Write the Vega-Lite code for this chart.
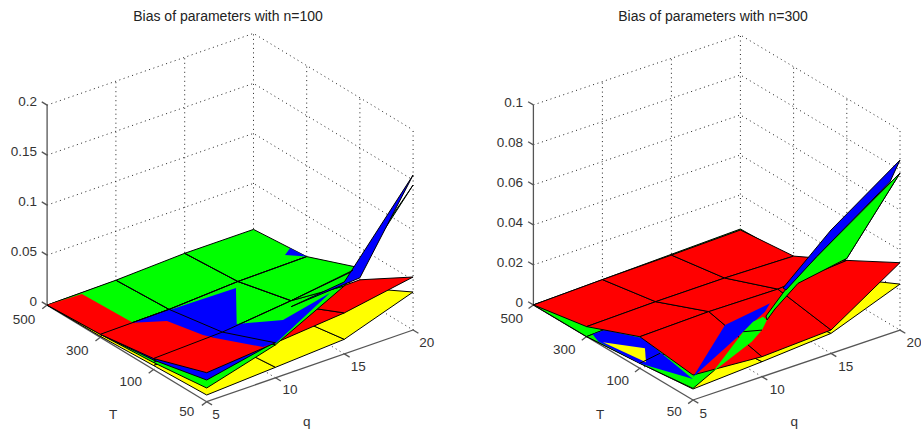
{"$schema":"https://vega.github.io/schema/vega-lite/v6.json","padding":0,"spacing":0,"background":"white","config":{"view":{"stroke":null},"concat":{"spacing":0}},
"datasets":{"left":[
{"s":"grid","id":"g0","qi":[0,3,3],"ti":[3,3,0],"z":[0,0,0],"v":[0,1,2]},
{"s":"grid","id":"g1","qi":[0,3,3],"ti":[3,3,0],"z":[0.05,0.05,0.05],"v":[0,1,2]},
{"s":"grid","id":"g2","qi":[0,3,3],"ti":[3,3,0],"z":[0.1,0.1,0.1],"v":[0,1,2]},
{"s":"grid","id":"g3","qi":[0,3,3],"ti":[3,3,0],"z":[0.15,0.15,0.15],"v":[0,1,2]},
{"s":"grid","id":"g4","qi":[0,3,3],"ti":[3,3,0],"z":[0.2,0.2,0.2],"v":[0,1,2]},
{"s":"grid","id":"v1","qi":[1,1],"ti":[3,3],"z":[0,0.2],"v":[0,1]},
{"s":"grid","id":"v2","qi":[2,2],"ti":[3,3],"z":[0,0.2],"v":[0,1]},
{"s":"grid","id":"v3","qi":[3,3],"ti":[3,3],"z":[0,0.2],"v":[0,1]},
{"s":"grid","id":"v4","qi":[3,3],"ti":[2,2],"z":[0,0.2],"v":[0,1]},
{"s":"grid","id":"v5","qi":[3,3],"ti":[1,1],"z":[0,0.2],"v":[0,1]},
{"s":"grid","id":"v6","qi":[3,3],"ti":[0,0],"z":[0,0.2],"v":[0,1]},
{"s":"grid","id":"f1","qi":[1,1],"ti":[0,3],"z":[0,0],"v":[0,1]},
{"s":"grid","id":"f2","qi":[2,2],"ti":[0,3],"z":[0,0],"v":[0,1]},
{"s":"grid","id":"f3","qi":[0,3],"ti":[1,1],"z":[0,0],"v":[0,1]},
{"s":"grid","id":"f4","qi":[0,3],"ti":[2,2],"z":[0,0],"v":[0,1]},
{"s":"axis","id":"az","qi":[0,0],"ti":[3,3],"z":[0,0.2],"v":[0,1]},
{"s":"axis","id":"at","qi":[0,0],"ti":[3,0],"z":[0,0],"v":[0,1]},
{"s":"axis","id":"aq","qi":[0,3],"ti":[0,0],"z":[0,0],"v":[0,1]},
{"s":"axis","id":"t0","qi":[0,-0.07],"ti":[0,0],"z":[0,-0.002],"v":[0,1]},
{"s":"axis","id":"t1","qi":[0,-0.07],"ti":[1,1],"z":[0,-0.002],"v":[0,1]},
{"s":"axis","id":"t2","qi":[0,-0.07],"ti":[2,2],"z":[0,-0.002],"v":[0,1]},
{"s":"axis","id":"t3","qi":[0,-0.07],"ti":[3,3],"z":[0,-0.002],"v":[0,1]},
{"s":"axis","id":"q0","qi":[0,0],"ti":[0,-0.1],"z":[0,0],"v":[0,1]},
{"s":"axis","id":"q1","qi":[1,1],"ti":[0,-0.1],"z":[0,0],"v":[0,1]},
{"s":"axis","id":"q2","qi":[2,2],"ti":[0,-0.1],"z":[0,0],"v":[0,1]},
{"s":"axis","id":"q3","qi":[3,3],"ti":[0,-0.1],"z":[0,0],"v":[0,1]},
{"s":"axis","id":"z0","qi":[0,0],"ti":[3,3.1],"z":[0,0],"v":[0,1]},
{"s":"axis","id":"z1","qi":[0,0],"ti":[3,3.1],"z":[0.05,0.05],"v":[0,1]},
{"s":"axis","id":"z2","qi":[0,0],"ti":[3,3.1],"z":[0.1,0.1],"v":[0,1]},
{"s":"axis","id":"z3","qi":[0,0],"ti":[3,3.1],"z":[0.15,0.15],"v":[0,1]},
{"s":"axis","id":"z4","qi":[0,0],"ti":[3,3.1],"z":[0.2,0.2],"v":[0,1]},
{"s":"yellow","e":"mesh","id":"y02","qi":[0,1,1,0,0],"ti":[2,2,3,3,2],"z":[0.001,0.002,0.0005,0,0.001],"v":[0,1,2,3,4]},
{"s":"yellow","e":"mesh","id":"y12","qi":[1,2,2,1,1],"ti":[2,2,3,3,2],"z":[0.002,0.003,0.001,0.0005,0.002],"v":[0,1,2,3,4]},
{"s":"yellow","e":"mesh","id":"y22","qi":[2,3,3,2,2],"ti":[2,2,3,3,2],"z":[0.003,0.004,0.001,0.001,0.003],"v":[0,1,2,3,4]},
{"s":"yellow","e":"mesh","id":"y01","qi":[0,1,1,0,0],"ti":[1,1,2,2,1],"z":[0.004,0.005,0.002,0.001,0.004],"v":[0,1,2,3,4]},
{"s":"yellow","e":"mesh","id":"y11","qi":[1,2,2,1,1],"ti":[1,1,2,2,1],"z":[0.005,0.0057,0.003,0.002,0.005],"v":[0,1,2,3,4]},
{"s":"yellow","e":"mesh","id":"y21","qi":[2,3,3,2,2],"ti":[1,1,2,2,1],"z":[0.0057,0.01,0.004,0.003,0.0057],"v":[0,1,2,3,4]},
{"s":"yellow","e":"mesh","id":"y00","qi":[0,1,1,0,0],"ti":[0,0,1,1,0],"z":[0.0067,0.0105,0.005,0.004,0.0067],"v":[0,1,2,3,4]},
{"s":"yellow","e":"mesh","id":"y10","qi":[1,2,2,1,1],"ti":[0,0,1,1,0],"z":[0.0105,0.0146,0.0057,0.005,0.0105],"v":[0,1,2,3,4]},
{"s":"yellow","e":"mesh","id":"y20","qi":[2,3,3,2,2],"ti":[0,0,1,1,0],"z":[0.0146,0.038,0.01,0.0057,0.0146],"v":[0,1,2,3,4]},
{"s":"red","e":"mesh","id":"r10","qi":[1,2,2,1,1],"ti":[0,0,1,1,0],"z":[0.035,0.041,0.0167,0.0135,0.035],"v":[0,1,2,3,4]},
{"s":"red","e":"mesh","id":"r20","qi":[2,3,3,2,2],"ti":[0,0,1,1,0],"z":[0.041,0.053,0.018,0.0167,0.041],"v":[0,1,2,3,4]},
{"s":"green","e":"mesh","id":"g02","qi":[0,1,1,0,0],"ti":[2,2,3,3,2],"z":[0.003,0.004,0.001,0,0.003],"v":[0,1,2,3,4]},
{"s":"green","e":"mesh","id":"g12","qi":[1,2,2,1,1],"ti":[2,2,3,3,2],"z":[0.004,0.008,0.004,0.001,0.004],"v":[0,1,2,3,4]},
{"s":"green","e":"mesh","id":"g22","qi":[2,3,3,2,2],"ti":[2,2,3,3,2],"z":[0.008,0.009,0.004,0.004,0.008],"v":[0,1,2,3,4]},
{"s":"green","e":"mesh","id":"g01","qi":[0,1,1,0,0],"ti":[1,1,2,2,1],"z":[0.007,0.0135,0.004,0.003,0.007],"v":[0,1,2,3,4]},
{"s":"green","e":"mesh","id":"g11","qi":[1,2,2,1,1],"ti":[1,1,2,2,1],"z":[0.0135,0.021,0.008,0.004,0.0135],"v":[0,1,2,3,4]},
{"s":"green","e":"mesh","id":"g21","qi":[2,3,3,2,2],"ti":[1,1,2,2,1],"z":[0.021,0.03,0.009,0.008,0.021],"v":[0,1,2,3,4]},
{"s":"green","e":"mesh","id":"g00","qi":[0,1,1,0,0],"ti":[0,0,1,1,0],"z":[0.0137,0.033,0.0135,0.007,0.0137],"v":[0,1,2,3,4]},
{"s":"green","e":"mesh","id":"g10","qi":[1,2,2,1,1],"ti":[0,0,1,1,0],"z":[0.033,0.068,0.021,0.0135,0.033],"v":[0,1,2,3,4]},
{"s":"green","e":"mesh","id":"g20","qi":[2,3,3,2,2],"ti":[0,0,1,1,0],"z":[0.068,0.145,0.03,0.021,0.068],"v":[0,1,2,3,4]},
{"s":"blue","e":"mesh","id":"b01","qi":[0,1,1,0,0],"ti":[1,1,2,2,1],"z":[0.0095,0.012,0.004,0.003,0.0095],"v":[0,1,2,3,4]},
{"s":"blue","e":"mesh","id":"b00","qi":[0,1,1,0,0],"ti":[0,0,1,1,0],"z":[0.0217,0.036,0.012,0.0095,0.0217],"v":[0,1,2,3,4]},
{"s":"blue","e":"mesh","id":"b20","qi":[2,3,3,2,2],"ti":[0,0,1,1,0],"z":[0.072,0.155,0.02,0.015,0.072],"v":[0,1,2,3,4]},
{"s":"blue","e":"patch","id":"pa","qi":[0.433,0.986,1.914,1.371,1.86,2.706,1.444,1.263,0.957,0.892,0.773,0.433],"ti":[1.946,1.946,1.925,1.209,0.971,1.182,0.565,0.575,1.082,1.223,1.746,1.946],"z":[0.006,0.006,0.006,0.006,0.006,0.006,0.006,0.006,0.006,0.006,0.006,0.006],"v":[0,1,2,3,4,5,6,7,8,9,10,11]},
{"s":"blue","e":"patch","id":"pd","qi":[2.973,2.825,3,2.973],"ti":[2.279,2.181,2,2.279],"z":[0.009,0.009,0.009,0.009],"v":[0,1,2,3]},
{"s":"red","e":"patch","id":"pb","qi":[0,0.476,0.433,0,0],"ti":[3,2.961,1.946,2,3],"z":[0,0.001,0.006,0.003,0],"v":[0,1,2,3,4]},
{"s":"red","e":"patch","id":"pc","qi":[0,0.433,0.773,0.892,0.957,1.263,1,0,0,0],"ti":[2,1.946,1.746,1.223,1.082,0.575,0,0,1,2],"z":[0.003,0.006,0.006,0.006,0.006,0.006,0.035,0.029,0.011,0.003],"v":[0,1,2,3,4,5,6,7,8,9]},
{"s":"wire","e":"mesh","id":"w1","qi":[0,1,2,3],"ti":[2,2,2,2],"z":[0.003,0.004,0.008,0.009],"v":[0,1,2,3]},
{"s":"wire","e":"mesh","id":"w2","qi":[0,1,2,2.9],"ti":[1,1,1,1],"z":[0.011,0.0135,0.021,0.03],"v":[0,1,2,3]},
{"s":"wire","e":"mesh","id":"w3","qi":[1,1,1,1],"ti":[0,1,2,3],"z":[0.035,0.0135,0.004,0.001],"v":[0,1,2,3]},
{"s":"wire","e":"mesh","id":"w4","qi":[2,2,2],"ti":[1,2,3],"z":[0.021,0.008,0.004],"v":[0,1,2]},
{"s":"wire","e":"mesh","id":"w5","qi":[0,0,0,0],"ti":[0,1,2,3],"z":[0.029,0.011,0.003,0],"v":[0,1,2,3]},
{"s":"wire","e":"mesh","id":"w6","qi":[0,1],"ti":[0,0],"z":[0.029,0.035],"v":[0,1]},
{"s":"labelr","label":"0","qi":[0],"ti":[3.19],"z":[-0.0027],"v":[0]},
{"s":"labelr","label":"0.05","qi":[0],"ti":[3.19],"z":[0.0473],"v":[0]},
{"s":"labelr","label":"0.1","qi":[0],"ti":[3.19],"z":[0.0973],"v":[0]},
{"s":"labelr","label":"0.15","qi":[0],"ti":[3.19],"z":[0.1473],"v":[0]},
{"s":"labelr","label":"0.2","qi":[0],"ti":[3.19],"z":[0.1973],"v":[0]},
{"s":"labelc","label":"500","qi":[-0.441],"ti":[2.865],"z":[0],"v":[0]},
{"s":"labelc","label":"300","qi":[-0.417],"ti":[1.894],"z":[0],"v":[0]},
{"s":"labelc","label":"100","qi":[-0.397],"ti":[0.916],"z":[0],"v":[0]},
{"s":"labelc","label":"50","qi":[-0.337],"ti":[-0.06],"z":[0],"v":[0]},
{"s":"labelc","label":"T","qi":[-1.066],"ti":[0.378],"z":[0],"v":[0]},
{"s":"labelc","label":"5","qi":[-0.117],"ti":[-0.326],"z":[0],"v":[0]},
{"s":"labelc","label":"10","qi":[0.948],"ti":[-0.34],"z":[0],"v":[0]},
{"s":"labelc","label":"15","qi":[1.925],"ti":[-0.36],"z":[0],"v":[0]},
{"s":"labelc","label":"20","qi":[2.923],"ti":[-0.356],"z":[0],"v":[0]},
{"s":"labelc","label":"q","qi":[0.618],"ti":[-1.08],"z":[0],"v":[0]}
],"right":[
{"s":"grid","id":"g0","qi":[0,3,3],"ti":[3,3,0],"z":[0,0,0],"v":[0,1,2]},
{"s":"grid","id":"g1","qi":[0,3,3],"ti":[3,3,0],"z":[0.02,0.02,0.02],"v":[0,1,2]},
{"s":"grid","id":"g2","qi":[0,3,3],"ti":[3,3,0],"z":[0.04,0.04,0.04],"v":[0,1,2]},
{"s":"grid","id":"g3","qi":[0,3,3],"ti":[3,3,0],"z":[0.06,0.06,0.06],"v":[0,1,2]},
{"s":"grid","id":"g4","qi":[0,3,3],"ti":[3,3,0],"z":[0.08,0.08,0.08],"v":[0,1,2]},
{"s":"grid","id":"g5","qi":[0,3,3],"ti":[3,3,0],"z":[0.1,0.1,0.1],"v":[0,1,2]},
{"s":"grid","id":"v1","qi":[1,1],"ti":[3,3],"z":[0,0.1],"v":[0,1]},
{"s":"grid","id":"v2","qi":[2,2],"ti":[3,3],"z":[0,0.1],"v":[0,1]},
{"s":"grid","id":"v3","qi":[3,3],"ti":[3,3],"z":[0,0.1],"v":[0,1]},
{"s":"grid","id":"v4","qi":[3,3],"ti":[2,2],"z":[0,0.1],"v":[0,1]},
{"s":"grid","id":"v5","qi":[3,3],"ti":[1,1],"z":[0,0.1],"v":[0,1]},
{"s":"grid","id":"v6","qi":[3,3],"ti":[0,0],"z":[0,0.1],"v":[0,1]},
{"s":"grid","id":"f1","qi":[1,1],"ti":[0,3],"z":[0,0],"v":[0,1]},
{"s":"grid","id":"f2","qi":[2,2],"ti":[0,3],"z":[0,0],"v":[0,1]},
{"s":"grid","id":"f3","qi":[0,3],"ti":[1,1],"z":[0,0],"v":[0,1]},
{"s":"grid","id":"f4","qi":[0,3],"ti":[2,2],"z":[0,0],"v":[0,1]},
{"s":"axis","id":"az","qi":[0,0],"ti":[3,3],"z":[0,0.1],"v":[0,1]},
{"s":"axis","id":"at","qi":[0,0],"ti":[3,0],"z":[0,0],"v":[0,1]},
{"s":"axis","id":"aq","qi":[0,3],"ti":[0,0],"z":[0,0],"v":[0,1]},
{"s":"axis","id":"t0","qi":[0,-0.07],"ti":[0,0],"z":[0,-0.001],"v":[0,1]},
{"s":"axis","id":"t1","qi":[0,-0.07],"ti":[1,1],"z":[0,-0.001],"v":[0,1]},
{"s":"axis","id":"t2","qi":[0,-0.07],"ti":[2,2],"z":[0,-0.001],"v":[0,1]},
{"s":"axis","id":"t3","qi":[0,-0.07],"ti":[3,3],"z":[0,-0.001],"v":[0,1]},
{"s":"axis","id":"q0","qi":[0,0],"ti":[0,-0.1],"z":[0,0],"v":[0,1]},
{"s":"axis","id":"q1","qi":[1,1],"ti":[0,-0.1],"z":[0,0],"v":[0,1]},
{"s":"axis","id":"q2","qi":[2,2],"ti":[0,-0.1],"z":[0,0],"v":[0,1]},
{"s":"axis","id":"q3","qi":[3,3],"ti":[0,-0.1],"z":[0,0],"v":[0,1]},
{"s":"axis","id":"z0","qi":[0,0],"ti":[3,3.1],"z":[0,0],"v":[0,1]},
{"s":"axis","id":"z1","qi":[0,0],"ti":[3,3.1],"z":[0.02,0.02],"v":[0,1]},
{"s":"axis","id":"z2","qi":[0,0],"ti":[3,3.1],"z":[0.04,0.04],"v":[0,1]},
{"s":"axis","id":"z3","qi":[0,0],"ti":[3,3.1],"z":[0.06,0.06],"v":[0,1]},
{"s":"axis","id":"z4","qi":[0,0],"ti":[3,3.1],"z":[0.08,0.08],"v":[0,1]},
{"s":"axis","id":"z5","qi":[0,0],"ti":[3,3.1],"z":[0.1,0.1],"v":[0,1]},
{"s":"yellow","e":"mesh","id":"y02","qi":[0,1,1,0,0],"ti":[2,2,3,3,2],"z":[0,0.001,0,0,0],"v":[0,1,2,3,4]},
{"s":"yellow","e":"mesh","id":"y12","qi":[1,2,2,1,1],"ti":[2,2,3,3,2],"z":[0.001,0.001,0.001,0,0.001],"v":[0,1,2,3,4]},
{"s":"yellow","e":"mesh","id":"y22","qi":[2,3,3,2,2],"ti":[2,2,3,3,2],"z":[0.001,0.002,0.001,0.001,0.001],"v":[0,1,2,3,4]},
{"s":"yellow","e":"mesh","id":"y01","qi":[0,1,1,0,0],"ti":[1,1,2,2,1],"z":[0.0025,0.005,0.001,0,0.0025],"v":[0,1,2,3,4]},
{"s":"yellow","e":"mesh","id":"y11","qi":[1,2,2,1,1],"ti":[1,1,2,2,1],"z":[0.005,0.007,0.001,0.001,0.005],"v":[0,1,2,3,4]},
{"s":"yellow","e":"mesh","id":"y21","qi":[2,3,3,2,2],"ti":[1,1,2,2,1],"z":[0.007,0.01,0.002,0.001,0.007],"v":[0,1,2,3,4]},
{"s":"yellow","e":"mesh","id":"y00","qi":[0,1,1,0,0],"ti":[0,0,1,1,0],"z":[0.0055,0.0075,0.005,0.0025,0.0055],"v":[0,1,2,3,4]},
{"s":"yellow","e":"mesh","id":"y10","qi":[1,2,2,1,1],"ti":[0,0,1,1,0],"z":[0.0075,0.01,0.007,0.005,0.0075],"v":[0,1,2,3,4]},
{"s":"yellow","e":"mesh","id":"y20","qi":[2,3,3,2,2],"ti":[0,0,1,1,0],"z":[0.01,0.023,0.01,0.007,0.01],"v":[0,1,2,3,4]},
{"s":"green","e":"mesh","id":"g02","qi":[0,1,1,0,0],"ti":[2,2,3,3,2],"z":[0,0.002,0.001,0,0],"v":[0,1,2,3,4]},
{"s":"green","e":"mesh","id":"g12","qi":[1,2,2,1,1],"ti":[2,2,3,3,2],"z":[0.002,0.003,0.002,0.001,0.002],"v":[0,1,2,3,4]},
{"s":"green","e":"mesh","id":"g22","qi":[2,3,3,2,2],"ti":[2,2,3,3,2],"z":[0.003,0.004,0.003,0.002,0.003],"v":[0,1,2,3,4]},
{"s":"green","e":"mesh","id":"g01","qi":[0,1,1,0,0],"ti":[1,1,2,2,1],"z":[0.0025,0.004,0.002,0,0.0025],"v":[0,1,2,3,4]},
{"s":"green","e":"mesh","id":"g11","qi":[1,2,2,1,1],"ti":[1,1,2,2,1],"z":[0.004,0.01,0.003,0.002,0.004],"v":[0,1,2,3,4]},
{"s":"green","e":"mesh","id":"g21","qi":[2,3,3,2,2],"ti":[1,1,2,2,1],"z":[0.01,0.02,0.004,0.003,0.01],"v":[0,1,2,3,4]},
{"s":"green","e":"mesh","id":"g00","qi":[0,1,1,0,0],"ti":[0,0,1,1,0],"z":[0.0058,0.0233,0.004,0.0025,0.0058],"v":[0,1,2,3,4]},
{"s":"green","e":"mesh","id":"g10","qi":[1,2,2,1,1],"ti":[0,0,1,1,0],"z":[0.0233,0.055,0.01,0.004,0.0233],"v":[0,1,2,3,4]},
{"s":"green","e":"mesh","id":"g20","qi":[2,3,3,2,2],"ti":[0,0,1,1,0],"z":[0.055,0.0785,0.02,0.01,0.055],"v":[0,1,2,3,4]},
{"s":"blue","e":"patch","id":"pl","qi":[0,0.179,0.405,0.241,0,0.037,0,0,0],"ti":[1.888,1.887,1.459,0.369,0,0.95,1,1.78,1.888],"z":[0.003,0.003,0.003,0.003,0.0105,0.002,0.0025,0.001,0.003],"v":[0,1,2,3,4,5,6,7,8]},
{"s":"yellow","e":"patch","id":"py","qi":[0,0.296,0.088,0],"ti":[1.694,1.287,0.998,1.694],"z":[0.002,0.002,0.002,0.002],"v":[0,1,2,3]},
{"s":"wire","e":"mesh","id":"wa","qi":[0,0.293],"ti":[1,1],"z":[0.0025,0.0041],"v":[0,1]},
{"s":"red","e":"mesh","id":"r02","qi":[0,1,1,0,0],"ti":[2,2,3,3,2],"z":[0.005,0.0058,0.001,0,0.005],"v":[0,1,2,3,4]},
{"s":"red","e":"mesh","id":"r12","qi":[1,2,2,1,1],"ti":[2,2,3,3,2],"z":[0.0058,0.006,0.0016,0.001,0.0058],"v":[0,1,2,3,4]},
{"s":"red","e":"mesh","id":"r22","qi":[2,3,3,2,2],"ti":[2,2,3,3,2],"z":[0.006,0.0053,0.0025,0.0016,0.006],"v":[0,1,2,3,4]},
{"s":"red","e":"mesh","id":"r01","qi":[0,1,1,0,0],"ti":[1,1,2,2,1],"z":[0.0158,0.0167,0.0058,0.005,0.0158],"v":[0,1,2,3,4]},
{"s":"red","e":"mesh","id":"r11","qi":[1,2,2,1,1],"ti":[1,1,2,2,1],"z":[0.0167,0.0163,0.006,0.0058,0.0167],"v":[0,1,2,3,4]},
{"s":"red","e":"mesh","id":"r21","qi":[2,3,3,2,2],"ti":[1,1,2,2,1],"z":[0.0163,0.019,0.0053,0.006,0.0163],"v":[0,1,2,3,4]},
{"s":"red","e":"mesh","id":"r00","qi":[0,1,1,0,0],"ti":[0,0,1,1,0],"z":[0.0125,0.01,0.0167,0.0158,0.0125],"v":[0,1,2,3,4]},
{"s":"red","e":"mesh","id":"r10","qi":[1,2,2,1,1],"ti":[0,0,1,1,0],"z":[0.01,0.0117,0.0163,0.0167,0.01],"v":[0,1,2,3,4]},
{"s":"red","e":"mesh","id":"r20","qi":[2,3,3,2,2],"ti":[0,0,1,1,0],"z":[0.0117,0.0337,0.019,0.0163,0.0117],"v":[0,1,2,3,4]},
{"s":"blue","e":"patch","id":"p1","qi":[0,1.088,1.841,1.664,1.153,0],"ti":[0,0.809,0.94,0.805,0.55,0],"z":[0.0115,0.012,0.012,0.012,0.012,0.0115],"v":[0,1,2,3,4,5]},
{"s":"green","e":"patch","id":"g1","qi":[0.376,0.967,1.15,1.258,1.243,1,0.951,0.376],"ti":[0.112,0.308,0.363,0.315,0.222,0,0.13,0.112],"z":[0.008,0.018,0.02,0.022,0.022,0.0233,0.016,0.008],"v":[0,1,2,3,4,5,6,7]},
{"s":"green","e":"mesh","id":"g2b","qi":[1.243,1.203,1.519,1.816,3,3,2.162,1.612,1.243],"ti":[0.222,0.188,0.209,0.031,0,1,0.83,0.55,0.222],"z":[0.022,0.025,0.035,0.05,0.0785,0.02,0.02,0.018,0.022],"v":[0,1,2,3,4,5,6,7,8]},
{"s":"blue","e":"mesh","id":"p2","qi":[1.64,2,3,2.883,1.816,1.636,1.64],"ti":[0.435,0,0,0.036,0.031,0.374,0.435],"z":[0.03,0.0617,0.085,0.075,0.05,0.03,0.03],"v":[0,1,2,3,4,5,6]},
{"s":"wire","e":"mesh","id":"wb","qi":[0.967,1],"ti":[0.308,0],"z":[0.018,0.0233],"v":[0,1]},
{"s":"labelr","label":"0","qi":[0],"ti":[3.195],"z":[-0.00215],"v":[0]},
{"s":"labelr","label":"0.02","qi":[0],"ti":[3.195],"z":[0.01785],"v":[0]},
{"s":"labelr","label":"0.04","qi":[0],"ti":[3.195],"z":[0.03785],"v":[0]},
{"s":"labelr","label":"0.06","qi":[0],"ti":[3.195],"z":[0.05785],"v":[0]},
{"s":"labelr","label":"0.08","qi":[0],"ti":[3.195],"z":[0.07785],"v":[0]},
{"s":"labelr","label":"0.1","qi":[0],"ti":[3.195],"z":[0.09785],"v":[0]},
{"s":"labelc","label":"500","qi":[-0.424],"ti":[2.857],"z":[0],"v":[0]},
{"s":"labelc","label":"300","qi":[-0.414],"ti":[1.882],"z":[0],"v":[0]},
{"s":"labelc","label":"100","qi":[-0.402],"ti":[0.894],"z":[0],"v":[0]},
{"s":"labelc","label":"50","qi":[-0.364],"ti":[-0.121],"z":[0],"v":[0]},
{"s":"labelc","label":"T","qi":[-1.093],"ti":[0.33],"z":[0],"v":[0]},
{"s":"labelc","label":"5","qi":[-0.127],"ti":[-0.358],"z":[0],"v":[0]},
{"s":"labelc","label":"10","qi":[0.935],"ti":[-0.372],"z":[0],"v":[0]},
{"s":"labelc","label":"15","qi":[1.92],"ti":[-0.38],"z":[0],"v":[0]},
{"s":"labelc","label":"20","qi":[2.934],"ti":[-0.349],"z":[0],"v":[0]},
{"s":"labelc","label":"q","qi":[0.6],"ti":[-1.126],"z":[0],"v":[0]}
]},
"hconcat":[
{"data":{"name":"left"},"width":460,"height":429,
"title":{"text":"Bias of parameters with n=100","anchor":"middle","offset":-24,"dx":-2,"font":"Liberation Sans","fontSize":14,"fontWeight":"normal","color":"#222"},
"transform":[{"flatten":["qi","ti","z","v"]},{"calculate":"206.7+68.8*datum.qi-53.2*datum.ti","as":"sx"},{"calculate":"401.7-23.9*datum.qi-32.2*datum.ti-1000*datum.z","as":"sy"}],
"encoding":{"x":{"field":"sx","type":"quantitative","scale":{"domain":[0,460],"nice":false,"zero":false},"axis":null},"y":{"field":"sy","type":"quantitative","scale":{"domain":[429,0],"nice":false,"zero":false},"axis":null}},
"layer":[
{"transform":[{"filter":"datum.s==='grid'"}],"mark":{"type":"line","stroke":"#222","strokeWidth":1,"strokeDash":[1,3.5],"clip":false},"encoding":{"detail":{"field":"id"},"order":{"field":"v"}}},
{"transform":[{"filter":"datum.s==='axis'"}],"mark":{"type":"line","stroke":"#555","strokeWidth":1.3,"clip":false},"encoding":{"detail":{"field":"id"},"order":{"field":"v"}}},
{"transform":[{"filter":"indexof(['yellow','green','blue','red','wire'],datum.s)>=0"}],"mark":{"type":"line","strokeWidth":1,"clip":false},"encoding":{"detail":{"field":"id"},"order":{"field":"v"},"fill":{"field":"s","type":"nominal","legend":null,"scale":{"domain":["yellow","green","blue","red","wire"],"range":["#ffff00","#00ff00","#0000ff","#ff0000","transparent"]}},"stroke":{"field":"e","type":"nominal","legend":null,"scale":{"domain":["mesh","patch"],"range":["#000000","transparent"]}}}},
{"transform":[{"filter":"datum.s==='labelr'"}],"mark":{"type":"text","align":"right","baseline":"middle","font":"Liberation Sans","fontSize":13.5,"color":"#333"},"encoding":{"text":{"field":"label"}}},
{"transform":[{"filter":"datum.s==='labelc'"}],"mark":{"type":"text","align":"center","baseline":"middle","font":"Liberation Sans","fontSize":13.5,"color":"#333"},"encoding":{"text":{"field":"label"}}}
]},
{"data":{"name":"right"},"width":460,"height":429,
"title":{"text":"Bias of parameters with n=300","anchor":"middle","offset":-24,"dx":23,"font":"Liberation Sans","fontSize":14,"fontWeight":"normal","color":"#222"},
"transform":[{"flatten":["qi","ti","z","v"]},{"calculate":"693+69*datum.qi-53.2*datum.ti","as":"sx"},{"calculate":"400-23.3*datum.qi-31.7*datum.ti-2000*datum.z","as":"sy"}],
"encoding":{"x":{"field":"sx","type":"quantitative","scale":{"domain":[460,920],"nice":false,"zero":false},"axis":null},"y":{"field":"sy","type":"quantitative","scale":{"domain":[429,0],"nice":false,"zero":false},"axis":null}},
"layer":[
{"transform":[{"filter":"datum.s==='grid'"}],"mark":{"type":"line","stroke":"#222","strokeWidth":1,"strokeDash":[1,3.5],"clip":false},"encoding":{"detail":{"field":"id"},"order":{"field":"v"}}},
{"transform":[{"filter":"datum.s==='axis'"}],"mark":{"type":"line","stroke":"#555","strokeWidth":1.3,"clip":false},"encoding":{"detail":{"field":"id"},"order":{"field":"v"}}},
{"transform":[{"filter":"indexof(['yellow','green','blue','red','wire'],datum.s)>=0"}],"mark":{"type":"line","strokeWidth":1,"clip":false},"encoding":{"detail":{"field":"id"},"order":{"field":"v"},"fill":{"field":"s","type":"nominal","legend":null,"scale":{"domain":["yellow","green","blue","red","wire"],"range":["#ffff00","#00ff00","#0000ff","#ff0000","transparent"]}},"stroke":{"field":"e","type":"nominal","legend":null,"scale":{"domain":["mesh","patch"],"range":["#000000","transparent"]}}}},
{"transform":[{"filter":"datum.s==='labelr'"}],"mark":{"type":"text","align":"right","baseline":"middle","font":"Liberation Sans","fontSize":13.5,"color":"#333"},"encoding":{"text":{"field":"label"}}},
{"transform":[{"filter":"datum.s==='labelc'"}],"mark":{"type":"text","align":"center","baseline":"middle","font":"Liberation Sans","fontSize":13.5,"color":"#333"},"encoding":{"text":{"field":"label"}}}
]}
]}
